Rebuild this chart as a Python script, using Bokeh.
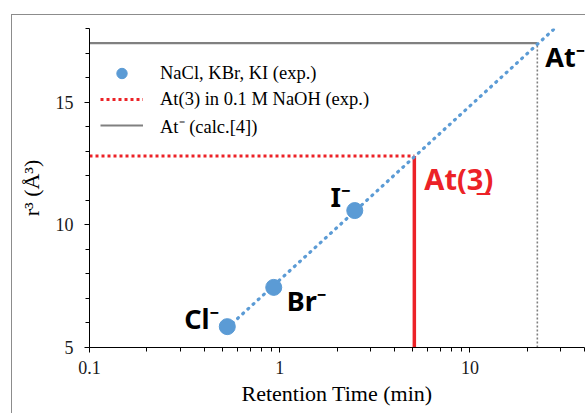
import numpy as np
from bokeh.plotting import figure
from bokeh.models import FixedTicker, Legend, LegendItem
from bokeh.embed import file_html
from bokeh.resources import INLINE
from bokeh.core.properties import value

# ---------------- data ----------------
halide_names = ["Cl⁻", "Br⁻", "I⁻"]
halide_time = [0.53, 0.93, 2.48]        # retention time (min)
halide_r3 = [5.85, 7.45, 10.58]         # r^3 (Å^3)

at3_label = "At(3̲)"
at3_time = 5.1
at3_r3 = 12.8

atcalc_label = "At⁻"
atcalc_time = 22.6
atcalc_r3 = 17.4

legend_labels = ["NaCl, KBr, KI (exp.)", "At(3) in 0.1 M NaOH (exp.)", "At⁻ (calc.[4])"]

x_ticks = [0.1, 1, 10]
x_tick_labels = ["0.1", "1", "10"]
x_minor = [0.2, 0.3, 0.4, 0.5, 0.6, 0.7, 0.8, 0.9,
           2, 3, 4, 5, 6, 7, 8, 9, 20, 30, 40]
y_ticks = [5, 10, 15]
y_minor = [6, 7, 8, 9, 11, 12, 13, 14, 16, 17, 18]
x_lo, x_hi = 0.1, 40
y_lo, y_hi = 5, 18

# ---------------- styles ----------------
BLUE = "#5b9bd5"
RED = "#ec2227"
GRAY = "#808080"
SERIF = "Liberation Serif"
SANS = "Noto Sans"

p = figure(width=574, height=399, x_axis_type="log",
           x_range=(x_lo, x_hi), y_range=(y_lo, y_hi),
           output_backend="svg", toolbar_location=None,
           min_border_left=77, min_border_top=13, min_border_bottom=67, min_border_right=2,
           margin=(14, 0, 0, 11),
           styles={"border-left": "1px solid #8c8c8c", "border-top": "1px solid #8c8c8c"})
p.outline_line_color = None
p.grid.visible = False
p.background_fill_color = "white"

# linear fit of r^3 vs log10(t)
lx = np.log10(halide_time)
slope, icpt = np.polyfit(lx, halide_r3, 1)
fit_x = [halide_time[0], x_hi]
fit_y = [icpt + slope * np.log10(v) for v in fit_x]

gray_v = p.line([atcalc_time, atcalc_time], [y_lo, atcalc_r3], color=GRAY,
                line_width=1.6, line_dash="2 2")
gray_h = p.line([x_lo, atcalc_time], [atcalc_r3, atcalc_r3], color=GRAY, line_width=2.2)
red_h = p.line([x_lo, at3_time], [at3_r3, at3_r3], color=RED, line_width=3, line_dash="3 3")
red_v = p.line([at3_time, at3_time], [y_lo, at3_r3], color=RED, line_width=3.5)
fit = p.line(fit_x, fit_y, color=BLUE, line_width=3.2, line_dash="1 6", line_cap="round")
pts = p.scatter(halide_time, halide_r3, size=16, color=BLUE)

# annotations
tf = value(SANS)
fs = "27px"
p.text([halide_time[0]], [halide_r3[0]], text=[halide_names[0]], text_font=tf,
       text_font_size=fs, text_font_style="bold", text_align="right",
       text_baseline="alphabetic", x_offset=-8, y_offset=-8, text_color="black")
p.text([halide_time[1]], [halide_r3[1]], text=[halide_names[1]], text_font=tf,
       text_font_size=fs, text_font_style="bold", text_align="left",
       text_baseline="alphabetic", x_offset=13, y_offset=13, text_color="black")
p.text([halide_time[2]], [halide_r3[2]], text=[halide_names[2]], text_font=tf,
       text_font_size=fs, text_font_style="bold", text_align="right",
       text_baseline="alphabetic", x_offset=-4, y_offset=-14, text_color="black")
p.text([atcalc_time], [atcalc_r3], text=[atcalc_label], text_font=tf,
       text_font_size=fs, text_font_style="bold", text_align="left",
       text_baseline="alphabetic", x_offset=8, y_offset=13, text_color="black")
p.text([at3_time], [at3_r3], text=[at3_label], text_font=tf,
       text_font_size="29px", text_font_style="bold", text_align="left",
       text_baseline="alphabetic", x_offset=10, y_offset=22, text_color=RED)

# axes
for ax in (p.xaxis[0], p.yaxis[0]):
    ax.axis_line_color = "black"
    ax.major_tick_line_color = "black"
    ax.minor_tick_line_color = "black"
    ax.major_tick_in = 0
    ax.major_tick_out = 5
    ax.minor_tick_in = 0
    ax.minor_tick_out = 4
    ax.major_label_text_font = SERIF
    ax.major_label_text_font_size = "18px"
    ax.major_label_text_color = "#1a1a1a"
    ax.axis_label_text_font = SERIF
    ax.axis_label_text_font_size = "22px"
    ax.axis_label_text_font_style = "normal"
    ax.axis_label_text_color = "black"

p.xaxis.ticker = FixedTicker(ticks=x_ticks, minor_ticks=x_minor)
p.xaxis.major_label_overrides = {t: s for t, s in zip(x_ticks, x_tick_labels)}
p.xaxis.axis_label = "Retention Time (min)"
p.xaxis.major_label_standoff = 8
p.xaxis.axis_label_standoff = 4

p.yaxis.ticker = FixedTicker(ticks=y_ticks, minor_ticks=y_minor)
p.yaxis.axis_label = "r³ (Å³)"
p.yaxis.major_label_standoff = 11
p.yaxis.axis_label_standoff = 9

legend = Legend(items=[LegendItem(label=legend_labels[0], renderers=[pts]),
                       LegendItem(label=legend_labels[1], renderers=[red_h]),
                       LegendItem(label=legend_labels[2], renderers=[gray_h])],
                location=(11, 209), border_line_color=None, background_fill_alpha=0,
                padding=0, margin=0, spacing=0, glyph_width=43, glyph_height=26,
                label_height=26, label_standoff=17, label_text_font=SERIF,
                label_text_font_size="18.5px", label_text_color="black")
p.add_layout(legend)

open("out.html", "w").write(file_html(p, INLINE))
